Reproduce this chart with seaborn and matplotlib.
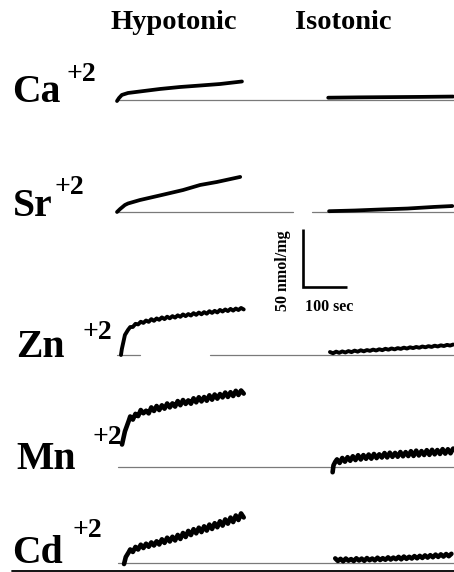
import numpy as np
import matplotlib
matplotlib.use("Agg")
import matplotlib.pyplot as plt
import seaborn as sns

# ---------------- data (time in sec, uptake in nmol/mg) ----------------
ions = ["Ca", "Sr", "Zn", "Mn", "Cd"]
charge = "+2"
conditions = ["Hypotonic", "Isotonic"]
scale_time_label = "100 sec"
scale_amount_label = "50 nmol/mg"

ca_hypo_t = [0, 4.5, 11, 25, 52, 98, 143, 189, 234, 284]
ca_hypo_v = [-0.9, 1.7, 4.4, 6.1, 7.4, 9.6, 11.3, 12.6, 13.9, 16.1]
ca_iso_t = [0, 70, 140, 210, 284]
ca_iso_v = [2.0, 2.3, 2.5, 2.7, 3.0]

sr_hypo_t = [0, 7, 18, 25, 52, 102, 150, 189, 227, 280]
sr_hypo_v = [0, 2.6, 6.1, 7.4, 10.4, 14.8, 19.1, 23.5, 26.1, 30.5]
sr_iso_t = [2, 60, 120, 180, 240, 282]
sr_iso_v = [0.7, 1.3, 2.2, 3.0, 4.4, 5.2]

zn_hypo_rise_t = [9, 11, 14, 18, 25]
zn_hypo_rise_v = [0, 5.2, 10.4, 17.4, 21.8]
zn_hypo_v = [24.3, 24.4, 27.1, 26.6, 28.9, 27.9, 30.0, 28.8, 31.2, 29.7,
             31.8, 30.6, 32.7, 31.2, 33.3, 31.9, 33.8, 32.5, 34.5, 33.2,
             35.3, 33.8, 35.6, 34.3, 36.4, 34.9, 36.9, 35.4, 37.3, 35.9,
             38.1, 36.6, 38.4, 37.0, 39.2, 37.8, 39.6, 38.2, 40.1, 38.6,
             40.4, 39.1, 40.9, 39.6]
zn_iso_v = [2.6, 1.5, 2.9, 1.9, 3.1, 2.2, 3.4, 2.5, 3.8, 2.9,
            4.1, 3.2, 4.3, 3.6, 4.7, 3.9, 5.0, 4.2, 5.4, 4.6,
            5.7, 4.9, 6.0, 5.3, 6.4, 5.6, 6.7, 6.0, 7.0, 6.3,
            7.4, 6.7, 7.7, 7.0, 8.1, 7.4, 8.4, 7.8, 8.8, 8.2, 9.1]

mn_hypo_rise_t = [11.4, 18, 27]
mn_hypo_rise_v = [19.1, 30.5, 40.0]
mn_hypo_v = [43.5, 40.8, 45.8, 43.8, 49.1, 46.3, 48.5, 46.2, 51.4, 48.3,
             52.6, 49.1, 53.2, 50.3, 54.8, 51.4, 54.9, 52.1, 56.9, 53.3,
             57.8, 54.4, 57.5, 54.6, 59.3, 55.8, 60.2, 56.6, 60.4, 57.2,
             61.9, 58.1, 62.6, 59.0, 63.0, 60.1, 64.3, 60.5, 64.6, 61.3,
             65.8, 62.2, 66.1, 63.4]
mn_iso_rise_t = [10, 12, 16]
mn_iso_rise_v = [-5.0, 1.0, 4.0]
mn_iso_v = [6.2, 3.1, 7.4, 4.2, 8.1, 5.0, 8.9, 5.6, 9.8, 6.1,
            9.9, 6.7, 10.4, 6.8, 10.9, 7.3, 10.6, 7.8, 11.7, 7.9,
            12.0, 8.4, 11.8, 8.5, 12.6, 8.9, 12.5, 9.1, 13.3, 9.2,
            13.8, 9.6, 13.4, 10.0, 14.2, 10.1, 14.5, 10.6, 14.3, 10.9,
            15.1, 11.2, 15.0, 11.5, 15.6]

cd_hypo_rise_t = [16, 20, 27]
cd_hypo_rise_v = [-0.9, 5.2, 9.6]
cd_hypo_v = [11.8, 9.6, 14.0, 11.7, 15.9, 13.0, 16.8, 14.1, 17.9, 15.2,
             18.9, 16.1, 20.6, 17.5, 22.0, 18.7, 22.8, 19.6, 24.4, 20.9,
             26.1, 22.6, 27.9, 24.3, 29.4, 25.8, 30.7, 26.9, 31.9, 28.2,
             33.4, 29.6, 34.6, 31.1, 36.3, 32.5, 37.9, 34.2, 39.5, 35.6,
             41.3, 37.4, 43.1, 39.6]
cd_iso_v = [4.0, 1.8, 3.6, 1.5, 3.9, 2.0, 3.4, 1.7, 4.1, 2.2,
            3.8, 1.9, 4.3, 2.4, 3.9, 2.3, 4.6, 2.6, 4.2, 2.8,
            4.9, 3.0, 4.7, 3.3, 5.3, 3.2, 5.6, 3.6, 5.4, 3.9,
            6.0, 4.1, 6.2, 4.4, 6.6, 4.7, 6.8, 5.0, 7.3, 5.3,
            7.5, 5.6, 7.8, 5.9, 8.0]

# sampling of the recorded (noisy) parts: (start time, step) in sec
zn_hypo_samp = (30, 6)
zn_iso_samp = (4, 7)
mn_hypo_samp = (30, 6)
mn_iso_samp = (20, 6)
cd_hypo_samp = (30, 6)
cd_iso_samp = (16, 6)

scale_time = 100    # sec
scale_amount = 50   # nmol/mg

# ---------------- layout helpers (pixel -> data) ----------------
W, H = 454, 572
SEC_PER_PX = 100 / 44
NMOL_PER_PX = 50 / 57.5
X0_PX = 117
ISO_START = 480  # sec offset of the isotonic recordings


def X(px):
    return (px - X0_PX) * SEC_PER_PX


def Y(py):
    return (H - py) * NMOL_PER_PX


row_base_px = [100, 212, 355, 466.5, 563]
label_pos_px = [(12, 102), (13, 216), (16, 357), (16, 469), (12, 563)]
sup_pos_px = [(66, 81), (55, 194), (82, 339), (93, 444), (72, 537)]
baseline_spans_px = [
    [(117, 454)],
    [(117, 293), (312, 454)],
    [(117, 140), (210, 454)],
    [(118, 454)],
    [(118, 454)],
]


def sampled(samp, vals):
    t0, dt = samp
    return list(t0 + dt * np.arange(len(vals)))


traces = {
    "Ca": ((ca_hypo_t, ca_hypo_v), (ca_iso_t, ca_iso_v)),
    "Sr": ((sr_hypo_t, sr_hypo_v), (sr_iso_t, sr_iso_v)),
    "Zn": ((zn_hypo_rise_t + sampled(zn_hypo_samp, zn_hypo_v), zn_hypo_rise_v + zn_hypo_v),
           (sampled(zn_iso_samp, zn_iso_v), zn_iso_v)),
    "Mn": ((mn_hypo_rise_t + sampled(mn_hypo_samp, mn_hypo_v), mn_hypo_rise_v + mn_hypo_v),
           (mn_iso_rise_t + sampled(mn_iso_samp, mn_iso_v), mn_iso_rise_v + mn_iso_v)),
    "Cd": ((cd_hypo_rise_t + sampled(cd_hypo_samp, cd_hypo_v), cd_hypo_rise_v + cd_hypo_v),
           (sampled(cd_iso_samp, cd_iso_v), cd_iso_v)),
}
line_w = {"Ca": 2.7, "Sr": 2.7, "Zn": 2.8, "Mn": 3.3, "Cd": 3.3}

# ---------------- drawing ----------------
sns.set_style("white")
plt.rcParams["font.family"] = ["Liberation Serif", "DejaVu Serif"]
plt.rcParams["text.color"] = "black"

fig = plt.figure(figsize=(W / 100, H / 100), dpi=100)
ax = fig.add_axes([0, 0, 1, 1])
ax.set_xlim(X(0), X(W))
ax.set_ylim(Y(H), Y(0))
ax.axis("off")

for i, ion in enumerate(ions):
    off = Y(row_base_px[i])
    for a, b in baseline_spans_px[i]:
        ax.plot([X(a), X(b)], [off, off], color="#7a7a7a", lw=0.9, zorder=1)
    (ht, hv), (it, iv) = traces[ion]
    sns.lineplot(x=np.array(ht, float), y=np.array(hv) + off, ax=ax, color="black",
                 linewidth=line_w[ion], estimator=None, sort=False, zorder=3)
    sns.lineplot(x=np.array(it, float) + ISO_START, y=np.array(iv) + off, ax=ax,
                 color="black", linewidth=line_w[ion], estimator=None, sort=False, zorder=3)
    lx, ly = label_pos_px[i]
    ax.text(X(lx), Y(ly), ion, fontsize=28.5, fontweight="bold", ha="left",
            va="baseline", color="black")
    sx, sy = sup_pos_px[i]
    ax.text(X(sx), Y(sy), charge, fontsize=20, fontweight="bold", ha="left",
            va="baseline", color="black")

# bottom rule
ax.plot([X(12), X(454)], [Y(570.5), Y(570.5)], color="black", lw=1.3)

# column titles
ax.text(X(174), Y(29), conditions[0], fontsize=20.5, fontweight="bold", ha="center",
        va="baseline", color="black")
ax.text(X(343), Y(29), conditions[1], fontsize=20.5, fontweight="bold", ha="center",
        va="baseline", color="black")

# scale bar
sb_x, sb_y = X(303), Y(287)
ax.plot([sb_x, sb_x, sb_x + scale_time], [sb_y + scale_amount, sb_y, sb_y],
        color="black", lw=1.9, solid_joinstyle="miter", solid_capstyle="butt")
ax.text(X(305), Y(307), scale_time_label, fontsize=11.5, fontweight="bold",
        ha="left", va="center", color="black")
ax.text(X(283), Y(271), scale_amount_label, fontsize=11.5, fontweight="bold",
        ha="center", va="center", rotation=90, color="black")

fig.savefig("out.png", dpi=100)
